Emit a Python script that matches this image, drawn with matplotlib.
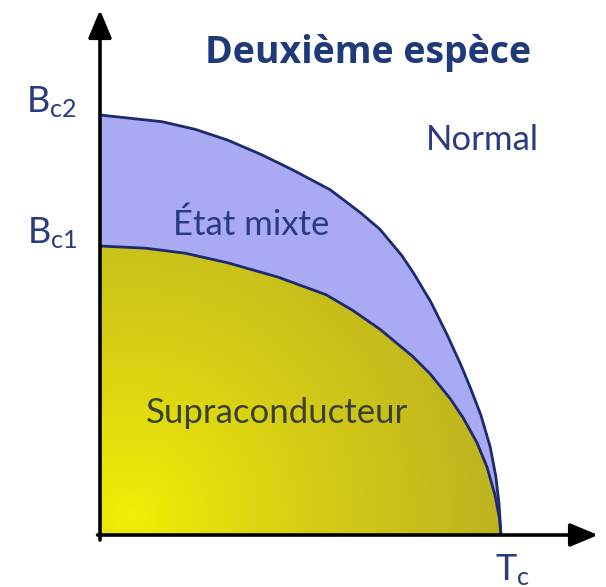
import numpy as np
import matplotlib
matplotlib.use("Agg")
import matplotlib.pyplot as plt
from matplotlib.patches import Polygon

plt.rcParams["font.family"] = ["Lato", "DejaVu Sans"]
plt.rcParams["mathtext.fontset"] = "custom"
plt.rcParams["mathtext.rm"] = "Lato"

# Reduced temperature T/Tc and critical fields (B/Bc2) read along each boundary
t_bc2 = [0.0, 0.155, 0.237, 0.319, 0.404, 0.479, 0.574, 0.650, 0.698, 0.753,
         0.781, 0.825, 0.865, 0.900, 0.923, 0.950, 0.973, 0.987, 0.995, 1.0]
b_bc2 = [1.0, 0.984, 0.966, 0.940, 0.905, 0.870, 0.822, 0.767, 0.728, 0.665,
         0.625, 0.555, 0.478, 0.405, 0.352, 0.285, 0.210, 0.140, 0.075, 0.0]

t_bc1 = [0.0, 0.112, 0.212, 0.319, 0.444, 0.564, 0.630, 0.698, 0.780, 0.823,
         0.873, 0.905, 0.940, 0.965, 0.985, 0.996, 1.0]
b_bc1 = [0.688, 0.683, 0.671, 0.648, 0.614, 0.572, 0.535, 0.490, 0.425, 0.384,
         0.325, 0.280, 0.220, 0.162, 0.095, 0.040, 0.0]

bc2_label = r"$\mathregular{B_{c2}}$"
bc1_label = r"$\mathregular{B_{c1}}$"
tc_label = r"$\mathregular{T_{c}}$"

NAVY = "#1c2a6e"
LAVENDER = "#aaaaf4"
TEXT_BLUE = "#2a3b80"

fig = plt.figure(figsize=(6.06, 5.87), dpi=100)
ax = fig.add_axes([0, 0, 1, 1])
ax.set_xlim(-100 / 401, 506 / 401)
ax.set_ylim(-52 / 420, 535 / 420)
ax.axis("off")

# mixed state band between Bc1 and Bc2
outer = list(zip(t_bc2, b_bc2)) + [(0.0, 0.0)]
ax.add_patch(Polygon(outer, closed=True, facecolor=LAVENDER, edgecolor="none", zorder=1))

# superconducting region with a radial yellow shading
inner = Polygon(list(zip(t_bc1, b_bc1)) + [(0.0, 0.0)], closed=True,
                facecolor="none", edgecolor="none")
ax.add_patch(inner)
gx, gy = np.meshgrid(np.linspace(0, 1, 300), np.linspace(0, 0.7, 220))
r = np.hypot(gx * 401 - 30, gy * 420 - 20) / 420
r = np.clip(r, 0, 1)
bright = np.array([0.96, 0.94, 0.02])
dull = np.array([0.72, 0.68, 0.14])
shade = bright + (dull - bright) * r[..., None] ** 0.8
img = ax.imshow(shade, extent=[0, 1, 0, 0.7], origin="lower", aspect="auto",
                interpolation="bilinear", zorder=2)
img.set_clip_path(inner)

# phase boundaries
ax.plot(t_bc2, b_bc2, color=NAVY, lw=2.0, zorder=3, solid_capstyle="round",
        solid_joinstyle="round")
ax.plot(t_bc1, b_bc1, color=NAVY, lw=2.0, zorder=3, solid_capstyle="round",
        solid_joinstyle="round")

# axes with arrow heads
arrow = dict(arrowstyle="-|>,head_length=1.0,head_width=0.42", color="black",
             lw=2.6, mutation_scale=17, shrinkA=0, shrinkB=0)
ax.annotate("", xy=(0, 525 / 420), xytext=(0, -0.012), arrowprops=arrow, zorder=4)
ax.annotate("", xy=(498 / 401, 0), xytext=(-0.006, 0), arrowprops=arrow, zorder=4)

# labels
ax.text(0.668, 1.124, "Deuxième espèce", color="#1f3a7a", fontsize=27,
        fontweight="bold", family=["Open Sans", "DejaVu Sans"],
        ha="center", va="baseline")
ax.text(0.953, 0.917, "Normal", color=TEXT_BLUE, fontsize=25,
        ha="center", va="baseline")
ax.text(0.377, 0.714, "État mixte", color=TEXT_BLUE, fontsize=25,
        ha="center", va="baseline")
ax.text(0.441, 0.267, "Supraconducteur", color="#3b4034", fontsize=25,
        ha="center", va="baseline")
ax.text(-0.057, 1.007, bc2_label, color=TEXT_BLUE, fontsize=26,
        ha="right", va="baseline")
ax.text(-0.057, 0.695, bc1_label, color=TEXT_BLUE, fontsize=26,
        ha="right", va="baseline")
ax.text(0.985, -45 / 420, tc_label, color=TEXT_BLUE, fontsize=26,
        ha="left", va="baseline")

fig.savefig("out.png", dpi=100)
